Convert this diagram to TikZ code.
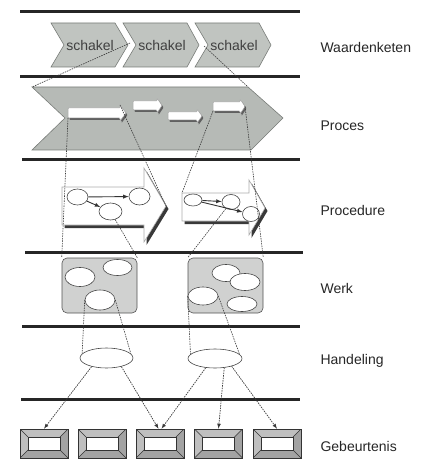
\documentclass[tikz,border=0pt]{standalone}
\usepackage{fontspec}
\setmainfont{Liberation Sans}
\usetikzlibrary{arrows,shapes.geometric}

\definecolor{vlak}{RGB}{192,196,192}
\definecolor{procesvlak}{RGB}{182,186,182}
\definecolor{rand}{RGB}{120,124,120}
\definecolor{werkvlak}{RGB}{208,209,208}

\tikzset{
  laag/.style={line width=3pt, black!85},
  naam/.style={anchor=west, black!85, font=\fontsize{14}{16}\selectfont},
  tekst/.style={black!75, font=\fontsize{14}{16}\selectfont, inner sep=0pt},
  schakel/.style={fill=vlak, draw=rand, line width=0.6pt},
  proces/.style={fill=procesvlak, draw=rand, line width=0.6pt},
  wit/.style={fill=white, draw=gray!70, line width=0.5pt, rounded corners=0.8pt,
    preaction={fill=gray!75!black, transform canvas={shift={(1.5pt,-2pt)}}}},
  groot/.style={fill=white, draw=gray!65, line width=0.6pt,
    preaction={fill=gray!45!black, transform canvas={shift={(2.5pt,-3pt)}}}},
  bol/.style={ellipse, draw=gray!55!black, fill=white, line width=0.6pt, inner sep=0pt},
  werk/.style={rectangle, rounded corners=5pt, fill=werkvlak, draw=gray!65!black,
    line width=0.6pt, minimum width=75pt, minimum height=55pt},
  stip/.style={gray!45!black, dash pattern=on 1.5pt off 1pt, line width=0.6pt},
  stipijl/.style={stip, ->, >=latex, line width=0.7pt},
  pijl/.style={->, >=latex, black!80, line width=0.9pt},
  gbox/.style={rectangle, draw=gray!40!black, fill=gray!50, line width=0.6pt,
    minimum width=48pt, minimum height=29pt, inner sep=0pt,
    path picture={
      \fill[gray!72] (path picture bounding box.south west)
        -- ([shift={(8pt,8pt)}]path picture bounding box.south west)
        -- ([shift={(-8pt,8pt)}]path picture bounding box.south east)
        -- ([shift={(-8pt,-8pt)}]path picture bounding box.north east)
        -- (path picture bounding box.north east)
        -- (path picture bounding box.south east) -- cycle;
      \draw[gray!40!black, line width=0.5pt]
        (path picture bounding box.south west) -- ([shift={(8pt,8pt)}]path picture bounding box.south west)
        (path picture bounding box.south east) -- ([shift={(-8pt,8pt)}]path picture bounding box.south east)
        (path picture bounding box.north east) -- ([shift={(-8pt,-8pt)}]path picture bounding box.north east)
        (path picture bounding box.north west) -- ([shift={(8pt,-8pt)}]path picture bounding box.north west);
      \filldraw[fill=white, draw=gray!40!black, line width=0.5pt]
        ([shift={(8pt,8pt)}]path picture bounding box.south west)
        rectangle ([shift={(-8pt,-8pt)}]path picture bounding box.north east);
    }}
}

\begin{document}
\begin{tikzpicture}[x=1pt,y=-1pt]
\useasboundingbox (0,0) rectangle (444,470);
% lagen
\draw[laag] (20,12) -- (300,12);
\draw[laag] (20,77) -- (300,77);
\draw[laag] (22,160) -- (300,160);
\draw[laag] (25,252) -- (303,252);
\draw[laag] (22,326) -- (300,326);
\draw[laag] (21,399) -- (300,399);
\node[naam] (n1) at (317,47) {Waardenketen};
\node[naam] (n2) at (317,126) {Proces};
\node[naam] (n3) at (317,210) {Procedure};
\node[naam] (n4) at (317,288) {Werk};
\node[naam] (n5) at (317,361) {Handeling};
\node[naam] (n6) at (317,446) {Gebeurtenis};

% waardenketen
\filldraw[schakel] (51,23) -- (115,23) -- (128,45) -- (115,67) -- (51,67) -- (64,45) -- cycle;
\filldraw[schakel] (123,23) -- (187,23) -- (199,45) -- (187,67) -- (123,67) -- (136,45) -- cycle;
\filldraw[schakel] (195,23) -- (259,23) -- (271,45) -- (259,67) -- (195,67) -- (208,45) -- cycle;
\node[tekst] (s1) at (90,45) {schakel};
\node[tekst] (s2) at (162,45) {schakel};
\node[tekst] (s3) at (234,45) {schakel};
\coordinate (k1) at (130,43);
\coordinate (k2) at (204,46);

% proces
\filldraw[proces] (32,87) coordinate (pa) -- (248,87) coordinate (pb) -- (283,118) -- (251,150) -- (32,150) -- (65,118) -- cycle;
\filldraw[wit] (68,108) -- (120,108) -- (120,105) coordinate (a1r) -- (126,113) -- (120,121) -- (120,118) -- (68,118) coordinate (a1) -- cycle;
\filldraw[wit] (133,101) -- (157,101) -- (157,98) -- (162,105.5) -- (157,113) -- (157,110) -- (133,110) -- cycle;
\filldraw[wit] (168,112) -- (197,112) -- (197,109) -- (202,116) -- (197,123) -- (197,120) -- (168,120) -- cycle;
\filldraw[wit] (213,102) -- (240,102) -- (240,99) -- (245,106.5) coordinate (a4r) -- (240,114) -- (240,111) -- (213,111) coordinate (a4) -- cycle;
\draw[stip] (k1) -- (pa);
\draw[stip] (k2) -- (pb);

% procedure
\filldraw[groot] (62,187) coordinate (q1) -- (144,187) -- (144,168) -- (166,206) coordinate (t1) -- (144,242) -- (144,225) -- (62,225) -- cycle;
\filldraw[groot] (182,193) coordinate (q2) -- (249,193) -- (249,180) -- (265,208) coordinate (t2) -- (249,235) -- (249,221) -- (182,221) -- cycle;
\node[bol, minimum width=21pt, minimum height=16pt] (e1) at (77.5,197) {};
\node[bol, minimum width=23pt, minimum height=17pt] (e2) at (110.5,211.5) {};
\node[bol, minimum width=21pt, minimum height=17pt] (e3) at (139.5,196.5) {};
\node[bol, minimum width=18pt, minimum height=12pt] (e4) at (193,200) {};
\node[bol, minimum width=18pt, minimum height=15pt] (e5) at (231,202) {};
\node[bol, minimum width=17pt, minimum height=15pt] (e6) at (251,214) {};
\draw[pijl] (e1) -- (e3);
\draw[pijl] (e1) -- (e2);
\draw[pijl] (e4) -- (e5);
\draw[pijl] (e4) -- (e6);
\draw[stip] (a1r) -- (t1);
\draw[stip] (a4) -- (q2);

% werk
\node[werk] (w1) at (99.5,285.5) {};
\node[werk] (w2) at (225.5,285.5) {};
\node[bol, minimum width=30pt, minimum height=19pt] (w1a) at (80,277) {};
\node[bol, minimum width=29pt, minimum height=16pt] (w1b) at (117.5,267.5) {};
\node[bol, minimum width=30pt, minimum height=20pt] (w1c) at (100,300) {};
\node[bol, minimum width=28pt, minimum height=17pt] (w2a) at (226,273) {};
\node[bol, minimum width=30pt, minimum height=17pt] (w2b) at (245,282) {};
\node[bol, minimum width=30pt, minimum height=18pt] (w2c) at (203,296) {};
\node[bol, minimum width=30pt, minimum height=15pt] (w2d) at (242,304) {};
\draw[stip] (a1) -- (w1.north west);
\draw[stip] (e2) -- (w1.north east);
\draw[stip] (e5) -- (w2.north west);
\draw[stip] (a4r) -- (w2.north east);

% handeling
\node[bol, minimum width=53pt, minimum height=20pt] (h1) at (106.5,358) {};
\node[bol, minimum width=54pt, minimum height=19pt] (h2) at (215,358.5) {};
\draw[stip] (w1c.west) -- (h1.170);
\draw[stip] (w1c.east) -- (h1.10);
\draw[stip] (w2c.west) -- (h2.170);
\draw[stip] (w2c.east) -- (h2.10);

% gebeurtenis
\node[gbox] (g1) at (44,443.5) {};
\node[gbox] (g2) at (102,443.5) {};
\node[gbox] (g3) at (160,443.5) {};
\node[gbox] (g4) at (218.5,443.5) {};
\node[gbox] (g5) at (277,443.5) {};
\draw[stipijl] (h1.-150) -- (g1.north);
\draw[stipijl] (h1.-30) -- ([xshift=-1.5pt]g3.north);
\draw[stipijl] (h2.-135) -- ([xshift=1.5pt]g3.north);
\draw[stipijl] (h2.-45) -- (g4.north);
\draw[stipijl] (h2.-25) -- (g5.north);
\end{tikzpicture}
\end{document}
